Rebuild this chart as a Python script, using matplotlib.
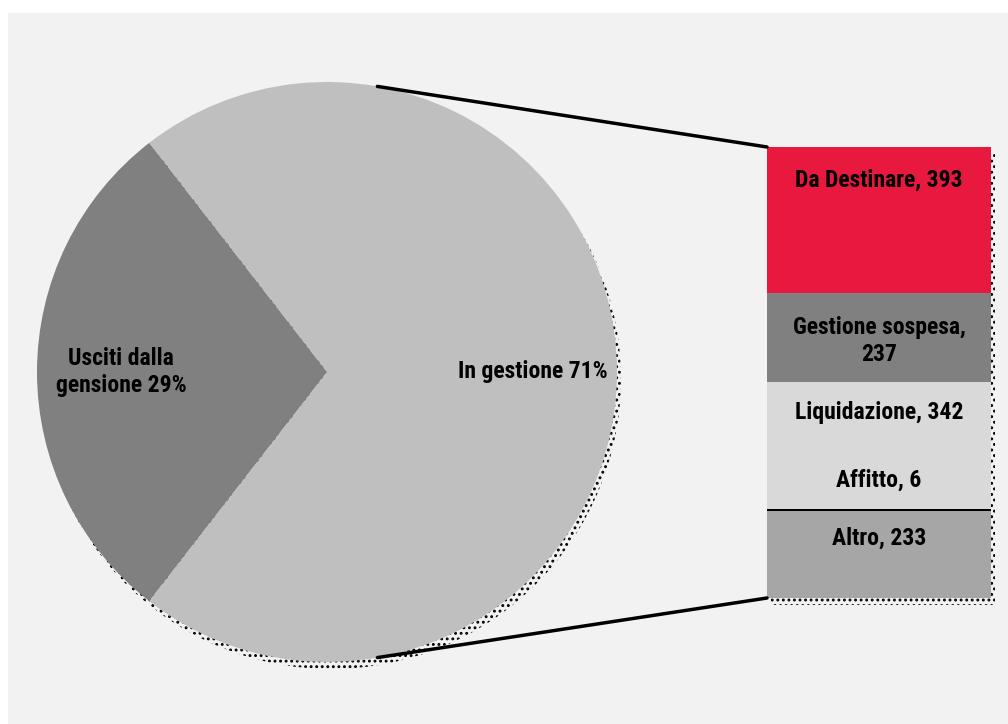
import numpy as np
import matplotlib.pyplot as plt
from matplotlib.patches import Circle, Rectangle, ConnectionPatch
from matplotlib.transforms import ScaledTranslation

# pie data
pie_labels = ['Usciti dalla\ngensione 29%', 'In gestione 71%']
pie_values = [29, 71]
pie_colors = ['#808080', '#bfbfbf']

# bar-of-pie data (bottom to top)
bar_labels = ['Altro, 233', 'Affitto, 6', 'Liquidazione, 342',
              'Gestione sospesa,\n237', 'Da Destinare, 393']
bar_values = [233, 6, 342, 237, 393]
bar_colors = ['#a6a6a6', '#000000', '#d9d9d9', '#808080', '#e8183f']
label_y = [161, 317, 499, 690, 1122]  # label heights in cumulative units

font = dict(family=['Roboto Condensed', 'Roboto', 'DejaVu Sans'],
            weight='bold', size=17, linespacing=1.2)
plt.rcParams['hatch.linewidth'] = 1.3

W, H = 1008, 724
fig = plt.figure(figsize=(W / 100, H / 100), dpi=100)
fig.patch.set_facecolor('white')
fig.add_artist(Rectangle((8 / W, 0), 1, 1 - 13 / H, transform=fig.transFigure,
                         facecolor='#f2f2f2', edgecolor='none', zorder=-5))

# pie, drawn in pixel-like coordinates
ax = fig.add_axes([0, 0, 1, 1])
cx, cy, r = 327, 352, 290
start = 180 - pie_values[0] / 100 * 360 / 2
wedges, texts = ax.pie(pie_values, labels=pie_labels, colors=pie_colors,
                       startangle=start, center=(cx, cy), radius=r,
                       labeldistance=0.71, frame=True,
                       textprops=font)
for t in texts:
    t.set_ha('center')
    t.set_va('center')
ax.set_xlim(0, W)
ax.set_ylim(0, H)
ax.axis('off')

shift = ScaledTranslation(0.04, -0.07, fig.dpi_scale_trans)
ax.add_patch(Circle((cx, cy), r, facecolor='none', edgecolor='black', lw=0,
                    hatch='...', transform=ax.transData + shift, zorder=0))

# stacked bar
bax = fig.add_axes([767 / W, 126 / H, 224 / W, 451 / H])
bottoms = np.concatenate([[0], np.cumsum(bar_values)[:-1]])
total = sum(bar_values)
bax.bar(0, bar_values, bottom=bottoms, width=1, color=bar_colors, zorder=2)
bax.add_patch(Rectangle((-0.5, 0), 1, total, facecolor='none',
                        edgecolor='black', lw=0, hatch='...', zorder=1,
                        transform=bax.transData + shift, clip_on=False))
for lab, y in zip(bar_labels, label_y):
    bax.text(0, y, lab, ha='center', va='center', zorder=3, **font)
bax.set_xlim(-0.5, 0.5)
bax.set_ylim(0, total)
bax.axis('off')

# connector lines
for ang, yb in [(80, total), (-80, 0)]:
    a = np.deg2rad(ang)
    con = ConnectionPatch(xyA=(cx + r * np.cos(a), cy + r * np.sin(a)),
                          coordsA=ax.transData, xyB=(-0.5, yb),
                          coordsB=bax.transData, color='black', lw=2.5)
    fig.add_artist(con)

fig.savefig('out.png', dpi=100)
